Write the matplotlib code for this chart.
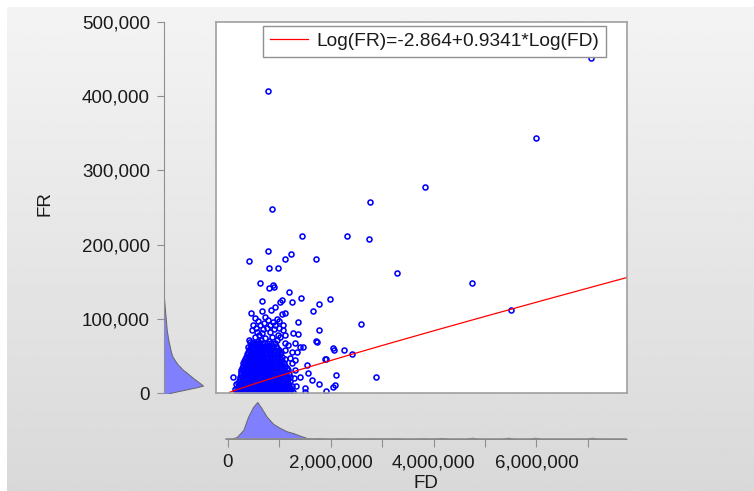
import numpy as np
import matplotlib
matplotlib.use("Agg")
import matplotlib.pyplot as plt
from matplotlib.ticker import FuncFormatter, MultipleLocator

plt.rcParams["font.family"] = ["Liberation Sans", "DejaVu Sans"]

# ---- regression (shown in legend) ----
INTERCEPT = -2.864
SLOPE = 0.9341
LEGEND_TEXT = "Log(FR)=-2.864+0.9341*Log(FD)"

# ---- scatter data, values in thousands ----
# dense cluster: FD values read along each FR level
CORE_FR = [1, 4, 7, 10, 13, 16, 19, 22, 25, 28, 31, 34, 37, 40, 43, 46, 49,
           52, 55, 58, 61, 64, 67]
CORE_FD = [
    [170, 230, 290, 350, 410, 470, 530, 590, 650, 710, 770, 830, 890, 950, 1010, 1070, 1130, 1200, 1260],
    [200, 260, 320, 380, 440, 500, 560, 620, 680, 740, 800, 860, 920, 980, 1040, 1100, 1170, 1230],
    [185, 245, 305, 365, 425, 485, 545, 605, 665, 725, 785, 845, 905, 965, 1025, 1090, 1150, 1215],
    [215, 275, 335, 395, 455, 515, 575, 635, 695, 755, 815, 875, 935, 995, 1060, 1120, 1190, 1250],
    [200, 260, 320, 380, 440, 500, 560, 620, 680, 740, 800, 860, 920, 980, 1040, 1105, 1170],
    [220, 285, 345, 405, 465, 525, 585, 645, 705, 765, 825, 885, 945, 1005, 1070, 1135, 1210],
    [235, 300, 360, 420, 480, 540, 600, 660, 720, 780, 840, 900, 960, 1025, 1090, 1160],
    [225, 290, 350, 410, 470, 530, 590, 650, 710, 770, 830, 890, 950, 1010, 1075, 1140, 1200],
    [245, 310, 375, 435, 495, 555, 615, 675, 735, 795, 855, 915, 975, 1040, 1110, 1180],
    [260, 325, 385, 445, 505, 565, 625, 685, 745, 805, 865, 925, 990, 1055, 1125],
    [250, 300, 355, 415, 475, 535, 595, 655, 715, 775, 835, 895, 960, 1025, 1095, 1160],
    [275, 335, 395, 455, 515, 575, 635, 695, 755, 815, 875, 940, 1005, 1075, 1140],
    [290, 350, 410, 470, 530, 590, 650, 710, 770, 830, 895, 960, 1030, 1110],
    [285, 340, 400, 460, 520, 580, 640, 700, 760, 820, 880, 945, 1010, 1085],
    [310, 370, 430, 490, 550, 610, 670, 730, 790, 850, 915, 985, 1060],
    [330, 390, 450, 510, 570, 630, 690, 750, 810, 875, 945, 1020, 1100],
    [345, 405, 465, 525, 585, 645, 705, 765, 830, 900, 975, 1050],
    [365, 425, 485, 545, 605, 665, 725, 790, 860, 930, 1010],
    [380, 440, 500, 560, 620, 680, 745, 815, 890, 965, 1040],
    [400, 460, 520, 580, 640, 705, 770, 845, 920, 1000],
    [420, 485, 545, 610, 675, 740, 810, 880, 960],
    [450, 510, 575, 640, 705, 775, 850, 935],
    [470, 540, 610, 680, 750, 830, 910],
]

# scattered points outside the cluster
FD_SCAT = [7060, 780, 6000, 3830, 2760, 860, 1440, 2320, 2750, 410, 780, 1110,
           1230, 1710, 800, 970, 3290, 620, 800, 870, 900, 1190, 4750, 5510,
           660, 1050, 1250, 1420, 1980, 1770, 1650, 910, 840, 660, 450, 1050,
           1110, 1360, 2590, 1770, 1710, 2060, 2260, 2410, 1910, 1540, 2100, 2880,
           1770, 2080, 100, 1500, 1010, 530, 720, 780, 880, 910, 490, 470,
           560, 760, 660, 530, 720, 860, 430, 490, 950, 1000, 1070, 1260,
           1360, 970, 1730, 1110, 1170, 1300, 1400, 1460, 1110, 1340, 1200, 1890,
           1300, 1400, 1500, 1050, 2040, 2040, 1560, 580, 640, 800, 950, 600,
           680, 820, 900, 1000, 620, 700, 810, 590, 1080, 1020, 1100, 540,
           400, 380, 1250, 1280, 1330, 1250, 1300, 150, 130, 1640, 1900]
FR_SCAT = [451, 407, 343, 277, 258, 248, 211, 212, 208, 178, 191, 181,
           188, 180, 168, 169, 162, 148, 142, 146, 143, 136, 148, 112,
           124, 125, 123, 128, 127, 120, 111, 116, 112, 111, 108, 107,
           108, 96, 93, 85, 70, 58, 58, 53, 46, 38, 24, 21,
           12, 11, 21, 2, 123, 101, 103, 99, 96, 92, 92, 85,
           82, 88, 81, 76, 74, 76, 69, 68, 100, 97, 85, 81,
           80, 78, 69, 68, 65, 68, 62, 62, 58, 55, 47, 46,
           31, 22, 7, 15, 61, 8, 27, 70, 72, 70, 72, 78,
           86, 82, 86, 88, 92, 95, 92, 97, 92, 75, 78, 88,
           72, 62, 40, 20, 10, 55, 45, 12, 5, 17, 3]

# ---- marginal densities (relative height) ----
FD_GRID = [-0.03, 0.05, 0.17, 0.30, 0.39, 0.49, 0.57, 0.65, 0.75, 0.88, 1.01,
           1.14, 1.27, 1.40, 1.53, 1.66, 1.75, 1.85, 2.00, 2.10, 2.25, 2.40,
           2.70, 2.85, 3.00, 3.30, 3.50, 3.80, 4.00, 4.15, 4.30, 4.60, 4.75,
           4.90, 5.30, 5.45, 5.60, 5.85, 5.98, 6.10, 6.95, 7.08, 7.20, 7.75]  # millions
FD_DENS = [0.0, 0.01, 0.05, 0.25, 0.60, 0.87, 1.0, 0.84, 0.61, 0.41, 0.30,
           0.21, 0.16, 0.09, 0.03, 0.01, 0.025, 0.01, 0.0, 0.015, 0.015, 0.005,
           0.01, 0.015, 0.005, 0.015, 0.0, 0.015, 0.0, 0.03, 0.0, 0.0, 0.035,
           0.0, 0.0, 0.035, 0.0, 0.0, 0.035, 0.0, 0.0, 0.035, 0.0, 0.0]
FR_GRID = [-3, 0, 2, 4, 6, 8, 10, 13, 17, 20, 24, 28, 31, 35, 38, 44, 49, 55,
           62, 72, 85, 95, 103, 115, 128]  # thousands
FR_DENS = [0.0, 0.15, 0.32, 0.50, 0.68, 0.86, 1.0, 0.93, 0.83, 0.75, 0.66, 0.57,
           0.49, 0.42, 0.36, 0.28, 0.22, 0.18, 0.15, 0.11, 0.07, 0.055, 0.04,
           0.02, 0.0]

# ---- layout (pixels of a 754x491 canvas) ----
W, H = 754, 491
def box(l, t, r, b):
    return [l / W, 1 - b / H, (r - l) / W, (b - t) / H]

XLIM = (-233e3, 7763e3)
YLIM = (0, 500e3)
TXT = "#1a1a1a"
SPINE = "#8f8f8f"
FS = 13.5
fmt = FuncFormatter(lambda v, pos: f"{v:,.0f}")

fig = plt.figure(figsize=(W / 100, H / 100), dpi=100)
fig.patch.set_facecolor("white")

# gradient background
bg = fig.add_axes(box(7, 7, W, H), zorder=-10)
grad = np.linspace(0.955, 0.85, 256).reshape(-1, 1)
bg.imshow(grad, cmap="gray", vmin=0, vmax=1, aspect="auto", extent=(0, 1, 0, 1))
bg.set_axis_off()

# main scatter
ax = fig.add_axes(box(216, 22, 627, 393))
ax.set_facecolor("white")
core_x = [fd * 1e3 for row in CORE_FD for fd in row]
core_y = [fr * 1e3 for fr, row in zip(CORE_FR, CORE_FD) for _ in row]
sc_x = [v * 1e3 for v in FD_SCAT]
sc_y = [v * 1e3 for v in FR_SCAT]
for xs, ys in ((core_x, core_y), (sc_x, sc_y)):
    ax.plot(xs, ys, linestyle="none", marker="o", ms=3.6, mew=1.15,
            mfc="none", mec="#0000ff")
fd_line = np.linspace(3e4, 7.8e6, 400)
ax.plot(fd_line, np.exp(INTERCEPT + SLOPE * np.log(fd_line)),
        color="#ff0000", lw=0.9, label=LEGEND_TEXT)
ax.set_xlim(*XLIM)
ax.set_ylim(*YLIM)
ax.set_xticks([])
ax.set_yticks([])
for s in ax.spines.values():
    s.set_color("#a0a0a0")
    s.set_linewidth(1.2)
leg = ax.legend(loc="upper left", bbox_to_anchor=(0.114, 0.99), borderaxespad=0,
                fontsize=13.8, fancybox=False, framealpha=1, edgecolor="#909090",
                handlelength=2.0, handletextpad=0.45, borderpad=0.35)
leg.get_frame().set_linewidth(1.0)
for t in leg.get_texts():
    t.set_color(TXT)

# left marginal (FR density)
axl = fig.add_axes(box(164, 22, 212, 393))
axl.patch.set_alpha(0)
axl.fill_betweenx([v * 1e3 for v in FR_GRID], 0, FR_DENS, color="#8080ff",
                  edgecolor="#666666", lw=0.7)
axl.set_xlim(0, 48 / 39)
axl.set_ylim(*YLIM)
for k in ("top", "right", "bottom"):
    axl.spines[k].set_visible(False)
axl.spines["left"].set_color(SPINE)
axl.spines["left"].set_bounds(0, 500e3)
axl.set_xticks([])
axl.yaxis.set_major_locator(MultipleLocator(100e3))
axl.yaxis.set_major_formatter(fmt)
axl.tick_params(axis="y", direction="out", length=5, width=0.8, color=SPINE,
                pad=5, labelsize=FS, labelcolor=TXT)

# bottom marginal (FD density)
axb = fig.add_axes(box(216, 398, 627, 439))
axb.patch.set_alpha(0)
axb.fill_between([v * 1e6 for v in FD_GRID], 0, FD_DENS, color="#8080ff",
                 edgecolor="#666666", lw=0.7)
axb.set_xlim(*XLIM)
axb.set_ylim(0, 41 / 37)
for k in ("top", "right", "left"):
    axb.spines[k].set_visible(False)
axb.spines["bottom"].set_color(SPINE)
axb.spines["bottom"].set_linewidth(1.2)
axb.spines["bottom"].set_bounds(-40e3, 7740e3)
axb.set_yticks([])
axb.xaxis.set_major_locator(MultipleLocator(2e6))
axb.xaxis.set_minor_locator(MultipleLocator(1e6))
axb.xaxis.set_major_formatter(fmt)
axb.tick_params(axis="x", which="both", direction="out", length=6, width=0.8,
                color=SPINE, pad=5, labelsize=FS, labelcolor=TXT)

fig.text(426 / W, 1 - 483 / H, "FD", ha="center", va="center", fontsize=FS, color=TXT)
fig.text(45 / W, 1 - 204 / H, "FR", ha="center", va="center", rotation=90,
         fontsize=FS, color=TXT)

fig.savefig("out.png", dpi=100)
